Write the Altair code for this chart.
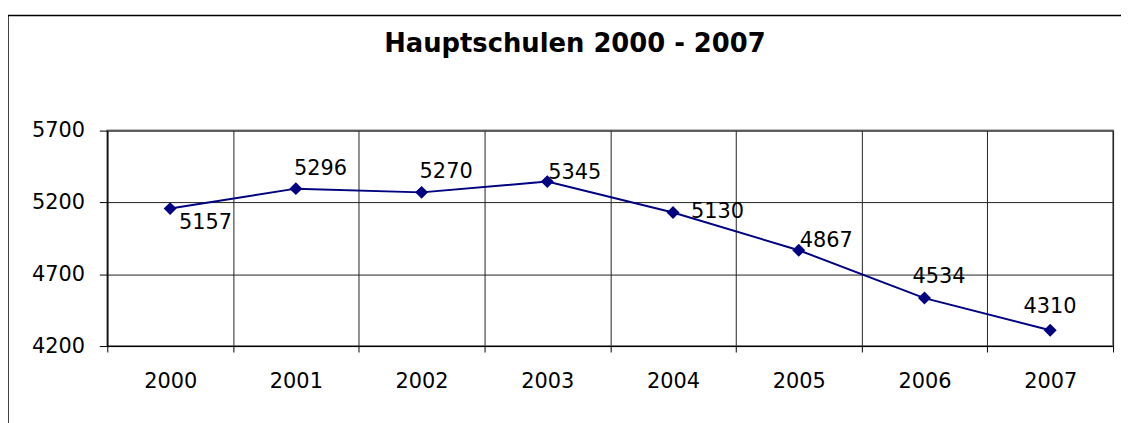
import altair as alt
import pandas as pd

years = ["2000", "2001", "2002", "2003", "2004", "2005", "2006", "2007"]
values = [5157, 5296, 5270, 5345, 5130, 4867, 4534, 4310]
y_ticks = [4200, 4700, 5200, 5700]
title_text = "Hauptschulen 2000 - 2007"

df = pd.DataFrame({"year": years, "value": values})

FONT = "DejaVu Sans"
NAVY = "#000080"
W, H = 1013, 217

x_enc = alt.X(
    "year:O",
    sort=years,
    scale=alt.Scale(paddingInner=0, paddingOuter=0),
    axis=alt.Axis(
        title=None, tickBand="extent", grid=True, gridColor="#222222",
        domainColor="#000000", tickColor="#000000", tickSize=6,
        labelFont=FONT, labelFontSize=21, labelColor="#000000",
        labelPadding=19, labelAngle=0,
    ),
)
y_enc = alt.Y(
    "value:Q",
    scale=alt.Scale(domain=[4200, 5700], nice=False, zero=False),
    axis=alt.Axis(
        title=None, values=y_ticks, grid=True, gridColor="#222222",
        domainColor="#000000", tickColor="#000000", tickSize=8,
        labelFont=FONT, labelFontSize=21, labelColor="#000000",
        labelPadding=15, format="d",
    ),
)

base = alt.Chart(df)

line = base.mark_line(color=NAVY, strokeWidth=2).encode(x=x_enc, y=y_enc)
points = base.mark_point(shape="diamond", filled=True, color=NAVY, size=170, opacity=1).encode(
    x=alt.X("year:O", sort=years), y="value:Q"
)

# label placement groups (offsets from the point, text left-aligned)
label_groups = [
    (["2000"], 9, 21),
    (["2001", "2002"], -2, -14),
    (["2003", "2005"], 1, -3),
    (["2004"], 18, 6),
    (["2006"], -12, -15),
    (["2007"], -27, -17),
]
label_layers = []
for yrs, dx, dy in label_groups:
    label_layers.append(
        base.transform_filter(alt.FieldOneOfPredicate(field="year", oneOf=yrs))
        .mark_text(font=FONT, fontSize=21, color="#000000", align="left",
                   baseline="alphabetic", dx=dx, dy=dy)
        .encode(x=alt.X("year:O", sort=years), y="value:Q", text="value:Q")
    )

title = alt.Chart(pd.DataFrame({"t": [title_text]})).mark_text(
    font=FONT, fontSize=26, fontWeight="bold", color="#000000",
    align="center", baseline="alphabetic",
).encode(text="t:N", x=alt.value(471), y=alt.value(-79))

frame_top = alt.Chart(pd.DataFrame({"a": [0]})).mark_rule(color="#000000", strokeWidth=1.5).encode(
    x=alt.value(-100), x2=alt.value(1040), y=alt.value(-116)
)
frame_left = alt.Chart(pd.DataFrame({"a": [0]})).mark_rule(color="#000000", strokeWidth=1.5).encode(
    x=alt.value(-100), y=alt.value(-116), y2=alt.value(300)
)

chart = alt.layer(line, points, *label_layers, title, frame_top, frame_left).properties(
    width=W, height=H,
    autosize=alt.AutoSizeParams(type="none"),
    padding={"left": 100, "top": 122, "right": 8, "bottom": 76},
    background="white",
).configure_view(stroke="#808080", strokeWidth=2)

chart.save("out.html", embed_options={"renderer": "svg", "actions": False})
